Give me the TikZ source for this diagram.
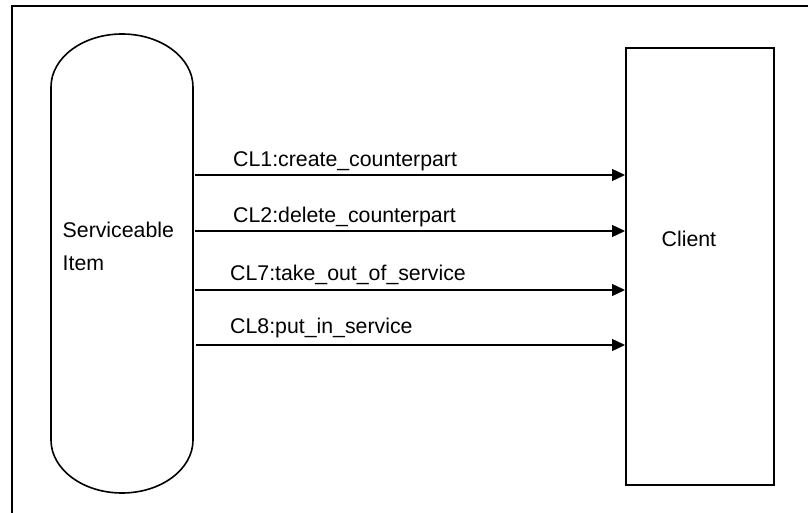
\documentclass[tikz,border=0pt]{standalone}
\usepackage{fontspec}
\setmainfont{Liberation Sans}
\usetikzlibrary{arrows.meta}
\begin{document}
\begin{tikzpicture}[x=1pt,y=-1pt,
  lbl/.style={anchor=base west,inner sep=0pt,font=\fontsize{21.3}{25}\selectfont},
  msg/.style={line width=1.4pt,-{Triangle[length=13pt,width=12pt]}},
  stadiumline/.style={line width=1.6pt}]
\useasboundingbox (0,0) rectangle (808,513);
% frame
\draw[line width=2pt] (12,513) -- (12,6) -- (808,6);
% serviceable item (stadium)
\node[minimum width=142pt,minimum height=459pt,inner sep=0pt] (item) at (122,263.5) {};
\draw[stadiumline] (51,440) -- (51,87) arc[start angle=180,end angle=360,x radius=71,y radius=53]
  -- (193,440) arc[start angle=0,end angle=180,x radius=71,y radius=53] -- cycle;
\node[lbl] (itemt1) at (62.5,237) {Serviceable};
\node[lbl] (itemt2) at (62.5,270) {Item};
% client
\node[draw,line width=2pt,minimum width=148pt,minimum height=437pt,inner sep=0pt] (client) at (700,266.5) {};
\node[lbl] (clientt) at (661.5,246) {Client};
% messages
\coordinate (m1) at (195,175);
\coordinate (m2) at (195,231);
\coordinate (m3) at (195,290);
\coordinate (m4) at (196,345);
\draw[msg] (m1) -- (m1 -| client.west);
\draw[msg] (m2) -- (m2 -| client.west);
\draw[msg] (m3) -- (m3 -| client.west);
\draw[msg] (m4) -- (m4 -| client.west);
\node[lbl] (l1) at (233,167) {CL1:create\_counterpart};
\node[lbl] (l2) at (233,222.5) {CL2:delete\_counterpart};
\node[lbl] (l3) at (230,280) {CL7:take\_out\_of\_service};
\node[lbl] (l4) at (230,333) {CL8:put\_in\_service};
\end{tikzpicture}
\end{document}
